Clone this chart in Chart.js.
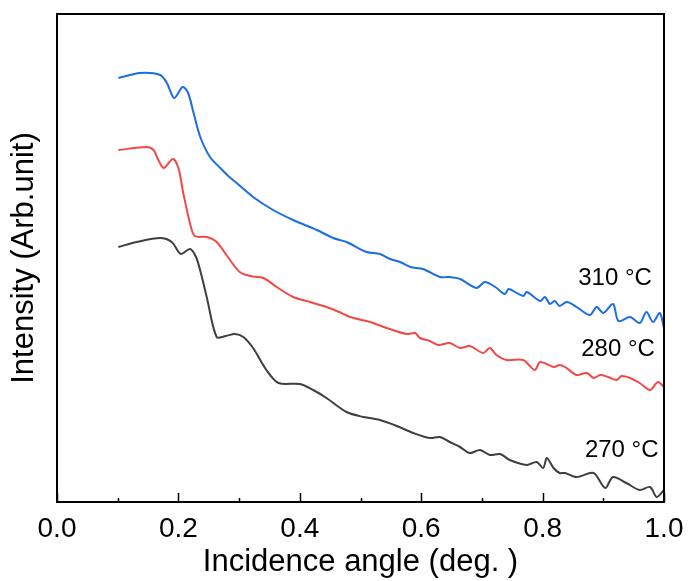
<!DOCTYPE html>
<html>
<head>
<meta charset="utf-8">
<script src="https://cdn.jsdelivr.net/npm/chart.js@4"></script>
<style>
  html, body { margin: 0; padding: 0; background: #fff; }
  #wrap { width: 689px; height: 581px; position: relative; }
</style>
</head>
<body>
<div id="wrap"><canvas id="xrrChart"></canvas></div>
<script>
// incidence angle (deg.) and intensity (arb. unit)
const angle310 = [0.101, 0.137, 0.170, 0.181, 0.193, 0.207, 0.216, 0.225, 0.236, 0.252, 0.269, 0.284, 0.296, 0.323, 0.356, 0.389, 0.428, 0.455, 0.477, 0.510, 0.532, 0.549, 0.565, 0.582, 0.603, 0.631, 0.646, 0.664, 0.691, 0.705, 0.722, 0.738, 0.744, 0.768, 0.774, 0.796, 0.804, 0.812, 0.820, 0.828, 0.840, 0.856, 0.878, 0.889, 0.900, 0.916, 0.925, 0.944, 0.960, 0.971, 0.982, 0.993, 1.000];
const int310 = [424, 429, 427, 419, 404, 415, 409, 389, 365, 345, 334, 325, 319, 305, 292, 282, 272, 264, 260, 250, 248, 243, 240, 235, 233, 225, 225, 223, 214, 220, 215, 208, 213, 206, 210, 201, 205, 198, 201, 196, 200, 195, 187, 195, 189, 198, 181, 185, 179, 190, 180, 189, 174];

const angle280 = [0.101, 0.148, 0.159, 0.167, 0.176, 0.191, 0.200, 0.208, 0.219, 0.227, 0.247, 0.263, 0.285, 0.301, 0.318, 0.340, 0.362, 0.389, 0.417, 0.444, 0.465, 0.483, 0.516, 0.543, 0.576, 0.590, 0.598, 0.614, 0.628, 0.647, 0.664, 0.680, 0.702, 0.713, 0.724, 0.741, 0.768, 0.787, 0.796, 0.818, 0.828, 0.837, 0.856, 0.873, 0.884, 0.895, 0.908, 0.922, 0.930, 0.944, 0.960, 0.977, 0.990, 1.000];
const int280 = [352, 355, 352, 342, 334, 343, 334, 309, 279, 266, 265, 260, 242, 230, 226, 224, 215, 205, 200, 195, 190, 185, 180, 174, 168, 169, 164, 161, 157, 159, 154, 156, 149, 154, 147, 142, 142, 132, 140, 135, 137, 135, 127, 129, 124, 127, 125, 122, 126, 124, 119, 112, 120, 115];

const angle270 = [0.101, 0.131, 0.170, 0.189, 0.204, 0.219, 0.229, 0.237, 0.247, 0.263, 0.278, 0.293, 0.307, 0.323, 0.345, 0.365, 0.400, 0.422, 0.444, 0.477, 0.505, 0.532, 0.560, 0.587, 0.614, 0.631, 0.647, 0.664, 0.680, 0.697, 0.713, 0.730, 0.746, 0.774, 0.790, 0.801, 0.807, 0.818, 0.828, 0.837, 0.856, 0.884, 0.903, 0.916, 0.938, 0.960, 0.977, 0.988, 1.000];
const int270 = [255, 260, 264, 260, 248, 253, 245, 229, 204, 165, 166, 168, 165, 154, 132, 119, 118, 112, 104, 90, 85, 82, 76, 69, 64, 65, 60, 55, 49, 52, 47, 48, 42, 37, 40, 34, 44, 34, 29, 29, 25, 29, 14, 25, 19, 12, 15, 5, 12];

const seriesLabels = ["310 °C", "280 °C", "270 °C"];
const xTickStep = 0.2;

// where the temperature labels sit (data coords, right-aligned)
const labelSpots = [[0.980, 224], [0.985, 153], [0.991, 52]];

const colors = ["#1a6ee0", "#f24848", "#3f3f3f"];
const FONT = "'Liberation Sans', Arial, sans-serif";

const toPoints = (xs, ys) => xs.map((x, i) => ({ x, y: ys[i] }));

const series = [
  toPoints(angle310, int310),
  toPoints(angle280, int280),
  toPoints(angle270, int270)
];

const frame = {
  id: "frame",
  afterDraw(chart) {
    const { ctx, chartArea: a, scales: { x, y } } = chart;
    ctx.save();
    ctx.strokeStyle = "#000";
    ctx.lineWidth = 2;
    ctx.strokeRect(a.left, a.top, a.right - a.left, a.bottom - a.top);

    // inward ticks, major from the scale, minor halfway between
    ctx.lineWidth = 1.5;
    ctx.beginPath();
    const vals = x.ticks.map((t) => t.value);
    vals.forEach((v, i) => {
      const px = Math.round(x.getPixelForValue(v)) + 0.5;
      ctx.moveTo(px, a.bottom);
      ctx.lineTo(px, a.bottom - 9);
      if (i < vals.length - 1) {
        const mx = Math.round(x.getPixelForValue((v + vals[i + 1]) / 2)) + 0.5;
        ctx.moveTo(mx, a.bottom);
        ctx.lineTo(mx, a.bottom - 4);
      }
    });
    ctx.stroke();

    ctx.fillStyle = "#000";
    ctx.font = `24px ${FONT}`;
    ctx.textAlign = "right";
    ctx.textBaseline = "middle";
    labelSpots.forEach(([lx, ly], i) => {
      ctx.fillText(seriesLabels[i], x.getPixelForValue(lx), y.getPixelForValue(ly));
    });
    ctx.restore();
  }
};

new Chart(document.getElementById("xrrChart"), {
  type: "line",
  data: {
    datasets: series.map((pts, i) => ({
      label: seriesLabels[i],
      data: pts,
      borderColor: colors[i],
      backgroundColor: "transparent",
      borderWidth: 2,
      pointRadius: 0,
      tension: 0.3
    }))
  },
  options: {
    responsive: true,
    maintainAspectRatio: false,
    animation: false,
    layout: { padding: { top: 14, right: 25, left: 0, bottom: 0 } },
    plugins: { legend: { display: false }, tooltip: { enabled: false } },
    scales: {
      x: {
        type: "linear",
        min: 0,
        max: 1,
        grid: { display: false, drawTicks: false },
        border: { display: false },
        ticks: {
          stepSize: xTickStep,
          maxRotation: 0,
          padding: 10,
          color: "#000",
          font: { family: FONT, size: 28 },
          callback: (v) => Number(v).toFixed(1)
        },
        title: {
          display: true,
          text: "Incidence angle (deg. )",
          color: "#000",
          font: { family: FONT, size: 31, lineHeight: 1 },
          padding: { top: 0, bottom: 3 }
        },
        afterFit: (s) => { s.height = 79; s.paddingLeft = 0; s.paddingRight = 0; }
      },
      y: {
        min: 0,
        max: 488,
        grid: { display: false, drawTicks: false },
        border: { display: false },
        ticks: { display: false },
        title: {
          display: true,
          text: "Intensity (Arb.unit)",
          color: "#000",
          font: { family: FONT, size: 31, lineHeight: 1 },
          padding: { top: 9, bottom: 0 }
        },
        afterFit: (s) => { s.width = 57; }
      }
    }
  },
  plugins: [frame]
});
</script>
</body>
</html>
